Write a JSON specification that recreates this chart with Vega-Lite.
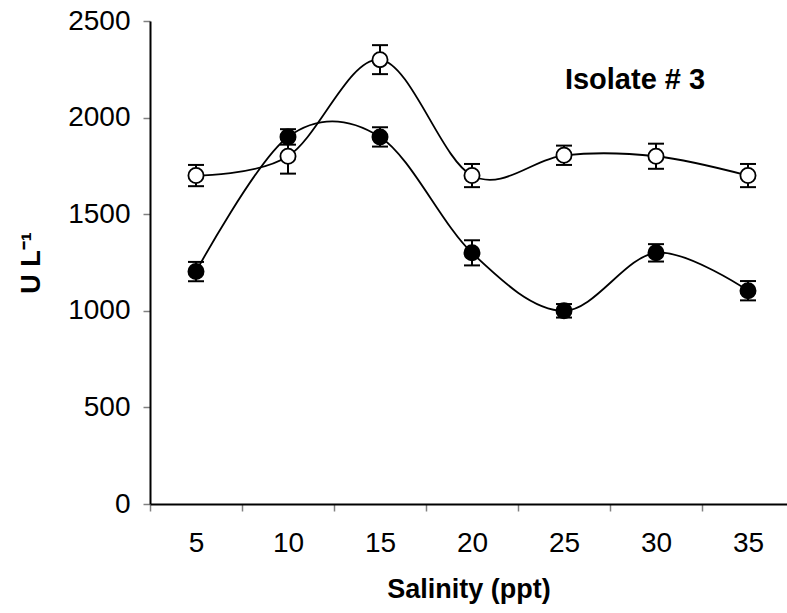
{
  "$schema": "https://vega.github.io/schema/vega-lite/v6.json",
  "autosize": "none",
  "padding": {"left": 150, "top": 21, "right": 0, "bottom": 109},
  "width": 637,
  "height": 483,
  "background": "white",
  "config": {
    "font": "Liberation Sans",
    "view": {"stroke": null},
    "axis": {"grid": false, "domainColor": "black", "domainWidth": 2, "tickColor": "#808080", "tickWidth": 1.5, "tickSize": 7, "labelColor": "black", "labelFont": "Liberation Sans", "labelFontSize": 28, "titleFont": "Liberation Sans", "titleFontSize": 27, "titleFontWeight": "bold", "titleColor": "black"}
  },
  "datasets": {
    "main": [
      {"salinity": 5, "series": "open", "v": 1700, "lo": 1645, "hi": 1755},
      {"salinity": 10, "series": "open", "v": 1800, "lo": 1710, "hi": 1890},
      {"salinity": 15, "series": "open", "v": 2300, "lo": 2225, "hi": 2375},
      {"salinity": 20, "series": "open", "v": 1700, "lo": 1640, "hi": 1760},
      {"salinity": 25, "series": "open", "v": 1805, "lo": 1755, "hi": 1855},
      {"salinity": 30, "series": "open", "v": 1800, "lo": 1735, "hi": 1865},
      {"salinity": 35, "series": "open", "v": 1700, "lo": 1640, "hi": 1760},
      {"salinity": 5, "series": "filled", "v": 1203, "lo": 1153, "hi": 1253},
      {"salinity": 10, "series": "filled", "v": 1900, "lo": 1860, "hi": 1940},
      {"salinity": 15, "series": "filled", "v": 1900, "lo": 1850, "hi": 1950},
      {"salinity": 20, "series": "filled", "v": 1300, "lo": 1235, "hi": 1365},
      {"salinity": 25, "series": "filled", "v": 1000, "lo": 965, "hi": 1035},
      {"salinity": 30, "series": "filled", "v": 1300, "lo": 1255, "hi": 1345},
      {"salinity": 35, "series": "filled", "v": 1104, "lo": 1054, "hi": 1154}
    ],
    "label": [{"x": 28.86, "y": 2148, "text": "Isolate # 3"}]
  },
  "encoding": {
    "x": {
      "field": "salinity", "type": "quantitative",
      "scale": {"domain": [2.5, 37.12], "nice": false, "zero": false},
      "axis": {
        "title": "Salinity (ppt)",
        "values": [2.5, 5, 7.5, 10, 12.5, 15, 17.5, 20, 22.5, 25, 27.5, 30, 32.5, 35],
        "labelExpr": "datum.value % 5 === 0 ? datum.label : ''",
        "tickOpacity": {"condition": {"test": "datum.value % 5 === 0", "value": 0}, "value": 1},
        "labelOverlap": false,
        "labelPadding": 18,
        "titlePadding": 19
      }
    }
  },
  "layer": [
    {
      "data": {"name": "main"},
      "mark": {"type": "line", "interpolate": "cardinal", "tension": 0, "color": "black", "strokeWidth": 1.8},
      "encoding": {
        "y": {"field": "v", "type": "quantitative", "scale": {"domain": [0, 2500], "nice": false},
          "axis": {"title": "U L⁻¹", "format": "d", "values": [0, 500, 1000, 1500, 2000, 2500], "labelPadding": 13, "titlePadding": 22}},
        "detail": {"field": "series"}
      }
    },
    {
      "data": {"name": "main"},
      "mark": {"type": "rule", "color": "black", "strokeWidth": 2},
      "encoding": {
        "y": {"field": "lo", "type": "quantitative"},
        "y2": {"field": "hi"}
      }
    },
    {
      "data": {"name": "main"},
      "mark": {"type": "tick", "orient": "horizontal", "size": 16, "thickness": 2, "color": "black", "opacity": 1},
      "encoding": {"y": {"field": "hi", "type": "quantitative"}}
    },
    {
      "data": {"name": "main"},
      "mark": {"type": "tick", "orient": "horizontal", "size": 16, "thickness": 2, "color": "black", "opacity": 1},
      "encoding": {"y": {"field": "lo", "type": "quantitative"}}
    },
    {
      "data": {"name": "main"},
      "mark": {"type": "point", "shape": "circle", "filled": false, "size": 230, "stroke": "black", "strokeWidth": 1.8, "opacity": 1},
      "encoding": {
        "y": {"field": "v", "type": "quantitative"},
        "fill": {"field": "series", "type": "nominal", "scale": {"domain": ["filled", "open"], "range": ["black", "white"]}, "legend": null}
      }
    },
    {
      "data": {"name": "label"},
      "mark": {"type": "text", "fontSize": 29, "fontWeight": "bold", "align": "center", "baseline": "alphabetic", "color": "black", "font": "Liberation Sans"},
      "encoding": {
        "x": {"field": "x", "type": "quantitative"},
        "y": {"field": "y", "type": "quantitative"},
        "text": {"field": "text"}
      }
    }
  ]
}
